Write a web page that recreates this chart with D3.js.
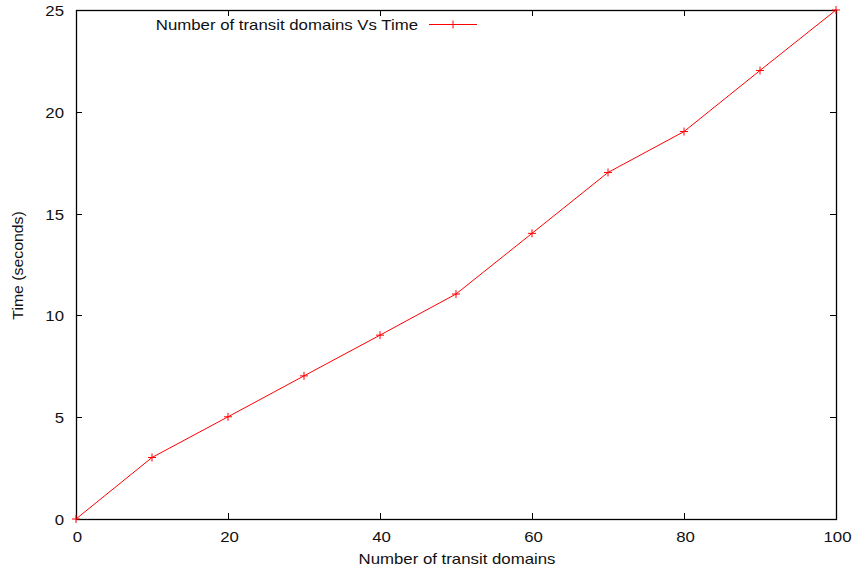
<!DOCTYPE html>
<html><head><meta charset="utf-8">
<script src="https://cdn.jsdelivr.net/npm/d3@7"></script>
<style>body{margin:0;background:#fff}text{font-family:"Liberation Sans",Arial,sans-serif;}</style>
</head><body><svg id="c" width="856" height="573"></svg>
<script>
const domains = [0,10,20,30,40,50,60,70,80,90,100];
const times = [0,3.02,5.02,7.03,9.03,11.05,14.03,17.02,19.03,22.03,25];
const xTicks = [0,20,40,60,80,100];
const yTicks = [0,5,10,15,20,25];
const seriesName = "Number of transit domains Vs Time";
const xTitle = "Number of transit domains";
const yTitle = "Time (seconds)";

const svg = d3.select("#c");
const L=76, R=836, T=10, B=519;
const x = d3.scaleLinear().domain([0,100]).range([L,R]);
const y = d3.scaleLinear().domain([0,25]).range([B,T]);
const fs = 14, tl = 6, SX = 1.2;

function txt(px, py, s, anchor, rot) {
  const t = svg.append("text").attr("font-size",fs).attr("text-anchor",anchor).attr("fill","#111").text(s);
  if (rot) t.attr("transform",`translate(${px},${py}) rotate(-90) scale(1.13,1.1)`);
  else t.attr("transform",`translate(${px},${py}) scale(${SX},1)`);
  return t;
}

// ticks (inward, mirrored)
const tg = svg.append("g").attr("stroke","#000").attr("stroke-width",1);
xTicks.forEach(v=>{
  const px = Math.round(x(v))+0.5;
  tg.append("line").attr("x1",px).attr("x2",px).attr("y1",B).attr("y2",B-tl);
  tg.append("line").attr("x1",px).attr("x2",px).attr("y1",T).attr("y2",T+tl);
});
yTicks.forEach(v=>{
  const py = Math.round(y(v))+0.5;
  tg.append("line").attr("x1",L).attr("x2",L+tl).attr("y1",py).attr("y2",py);
  tg.append("line").attr("x1",R).attr("x2",R-tl).attr("y1",py).attr("y2",py);
});
// border
svg.append("rect").attr("x",L+0.5).attr("y",T+0.5).attr("width",R-L).attr("height",B-T)
  .attr("fill","none").attr("stroke","#000").attr("stroke-width",1.3);

// tick labels
xTicks.forEach(d=>txt(x(d)+1.5, B+22.5, d, "middle"));
yTicks.forEach(d=>txt(L-12, y(d)+6, d, "end"));

// axis titles
txt((L+R)/2+1, B+45, xTitle, "middle");
txt(23, (T+B)/2+1, yTitle, "middle", true);

// line
const pts = domains.map((d,i)=>[d,times[i]]);
svg.append("path").datum(pts).attr("fill","none").attr("stroke","#ff0000").attr("stroke-width",1)
  .attr("d",d3.line().x(d=>x(d[0])).y(d=>y(d[1])));
const ms = 4;
const mg = svg.append("g").attr("stroke","#ff0000").attr("stroke-width",1);
pts.forEach(d=>{
  const px=x(d[0]), py=y(d[1]);
  mg.append("line").attr("x1",px-ms).attr("x2",px+ms).attr("y1",py).attr("y2",py);
  mg.append("line").attr("x1",px).attr("x2",px).attr("y1",py-ms).attr("y2",py+ms);
});

// legend
const ly = 24.5;
txt(418, 30, seriesName, "end");
svg.append("line").attr("x1",429).attr("x2",477).attr("y1",ly).attr("y2",ly).attr("stroke","#ff0000");
svg.append("line").attr("x1",453-ms).attr("x2",453+ms).attr("y1",ly).attr("y2",ly).attr("stroke","#ff0000");
svg.append("line").attr("x1",453).attr("x2",453).attr("y1",ly-ms).attr("y2",ly+ms).attr("stroke","#ff0000");
</script></body></html>
